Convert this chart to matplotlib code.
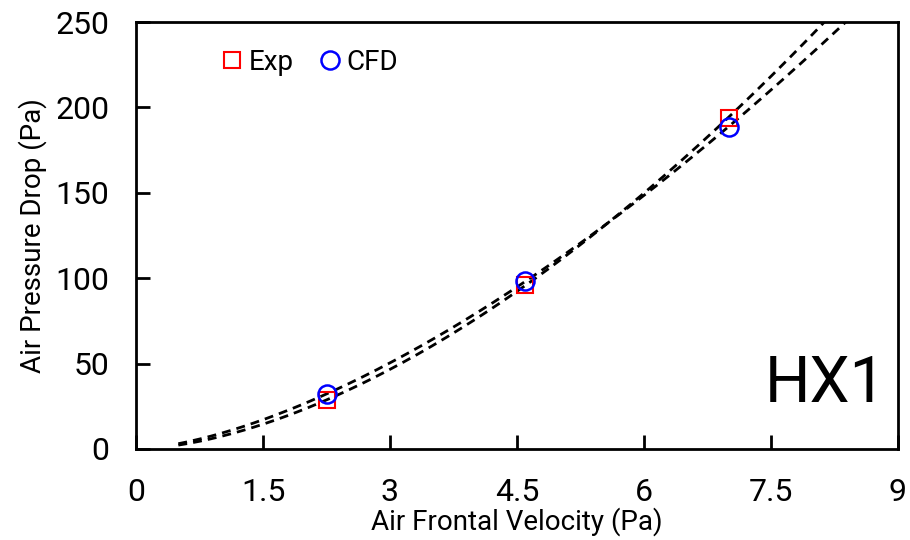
import numpy as np
import matplotlib.pyplot as plt

# data
velocity = [2.25, 4.6, 7.0]
dp_exp = [28.7, 96.0, 194.0]
dp_cfd = [32.2, 98.4, 188.5]


def power_fit(x, y):
    # excel style power trendline y = a*x^b
    b, ln_a = np.polyfit(np.log(x), np.log(y), 1)
    return np.exp(ln_a), b


plt.rcParams['font.family'] = ['Roboto', 'DejaVu Sans']

fig = plt.figure(figsize=(9.1, 5.4), dpi=100)
ax = fig.add_axes([136 / 910, 1 - 449 / 540, (898 - 136) / 910, (449 - 22) / 540])

xx = np.linspace(0.5, 9, 200)
for y in (dp_exp, dp_cfd):
    a, b = power_fit(velocity, y)
    ax.plot(xx, a * xx ** b, color='black', linestyle=(0, (3.2, 2.2)), linewidth=2)

ax.plot(velocity, dp_exp, 's', markersize=11, markerfacecolor='none',
        markeredgecolor='red', markeredgewidth=1.5, label='Exp')
ax.plot(velocity, dp_cfd, 'o', markersize=13, markerfacecolor='none',
        markeredgecolor='blue', markeredgewidth=1.8, label='CFD')

ax.set_xlim(0, 9)
ax.set_ylim(0, 250)
ax.set_xticks([0, 1.5, 3, 4.5, 6, 7.5, 9])
ax.set_xticklabels(['0', '1.5', '3', '4.5', '6', '7.5', '9'])
ax.set_yticks([0, 50, 100, 150, 200, 250])
ax.tick_params(direction='in', length=10, width=2, labelsize=23,
               top=False, right=False)
ax.tick_params(axis='x', pad=21)
ax.tick_params(axis='y', pad=19)
for s in ax.spines.values():
    s.set_linewidth(2)

ax.set_xlabel('Air Frontal Velocity (Pa)', fontsize=20, labelpad=0)
ax.set_ylabel('Air Pressure Drop (Pa)', fontsize=20, labelpad=6)

ax.text(0.985, 0.08, 'HX1', transform=ax.transAxes, ha='right', va='bottom',
        fontsize=46)

ax.legend(loc='upper left', bbox_to_anchor=(0.075, 0.995), ncol=2, frameon=False,
          fontsize=20, handletextpad=0.1, columnspacing=0.8, handlelength=1.0)

fig.savefig('out.png', dpi=100)
